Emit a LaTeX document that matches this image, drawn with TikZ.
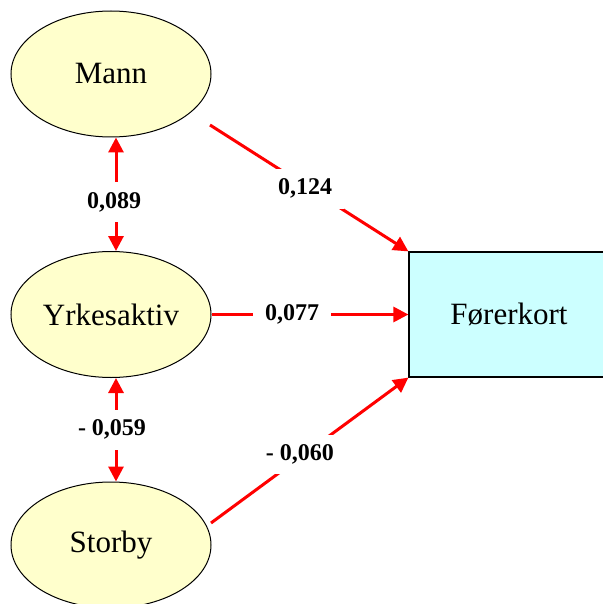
\documentclass[tikz,border=0pt]{standalone}
\usepackage{fontspec}
\setmainfont{Liberation Serif}
\usetikzlibrary{shapes.geometric,arrows.meta}
\definecolor{ellfill}{RGB}{255,255,204}
\definecolor{boxfill}{RGB}{204,255,255}
\begin{document}
\begin{tikzpicture}[x=1pt,y=-1pt,
  latent/.style={ellipse,draw=black,line width=1pt,fill=ellfill,minimum width=200pt,minimum height=126pt,inner sep=0pt,font=\fontsize{31}{37}\selectfont},
  observed/.style={rectangle,draw=black,line width=1.2pt,fill=boxfill,minimum width=240pt,minimum height=125pt,inner sep=0pt,font=\fontsize{31}{37}\selectfont},
  pathline/.style={draw=red,line width=3pt,-{Triangle[length=15pt,width=15pt]}},
  covline/.style={draw=red,line width=3pt,{Triangle[length=15pt,width=15pt]}-{Triangle[length=15pt,width=15pt]}},
  coef/.style={fill=white,inner xsep=12pt,inner ysep=10pt,font=\bfseries\fontsize{24}{28}\selectfont}]
\useasboundingbox (0,0) rectangle (602,604);
\node[latent] (mann) at (111,74) {Mann};
\node[latent] (yrk) at (111,314.5) {Yrkesaktiv};
\node[latent] (storby) at (111,545) {Storby};
\node[observed] (fk) at (529,314.5) {Førerkort\hspace*{40pt}};
\coordinate (mstart) at (210,125);
\coordinate (sstart) at (211,523);
\draw[pathline] (mstart) -- node[coef,pos=0.48,yshift=-3pt] {0,124} (fk.north west);
\draw[pathline] (yrk.east) -- node[coef,pos=0.41] {0,077} (fk.west);
\draw[pathline] (sstart) -- node[coef,pos=0.45,yshift=3pt] {- 0,060} (fk.south west);
\draw[covline] ([xshift=5pt]mann.south) -- node[coef,pos=0.57,xshift=-2pt] {0,089} ([xshift=5pt]yrk.north);
\draw[covline] ([xshift=5pt]yrk.south) -- node[coef,pos=0.5,xshift=-4pt] {- 0,059} ([xshift=5pt]storby.north);
\end{tikzpicture}
\end{document}
